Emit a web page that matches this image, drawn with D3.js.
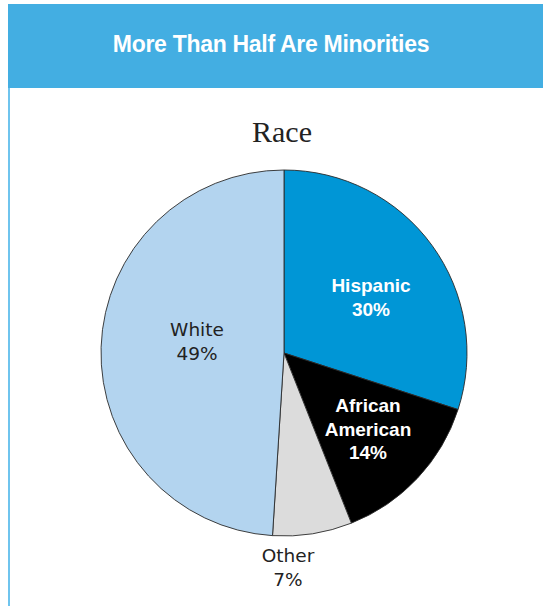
<!DOCTYPE html>
<html>
<head>
<meta charset="UTF-8">
<title>More Than Half Are Minorities</title>
<style>
  body { margin: 0; background: #fff; }
  text { font-family: "Liberation Sans", Arial, sans-serif; }
</style>
</head>
<body>
<svg id="chart"></svg>
<script src="https://cdnjs.cloudflare.com/ajax/libs/d3/7.8.5/d3.min.js"></script>
<script>
// data
var categories = ["Hispanic", "African American", "Other", "White"];
var values = [30, 14, 7, 49];
var colors = ["#0096d6", "#000000", "#dcdcdc", "#b3d4ef"];

var width = 543, height = 606;
var svg = d3.select("#chart").attr("width", width).attr("height", height);

// header band
svg.append("rect").attr("x", 8).attr("y", 4).attr("width", width - 8).attr("height", 84)
  .attr("fill", "#43aee2");
svg.append("line").attr("x1", 9).attr("x2", 9).attr("y1", 88).attr("y2", height)
  .attr("stroke", "#3fb0e8").attr("stroke-width", 1.5);
svg.append("text").attr("x", 271).attr("y", 52).attr("text-anchor", "middle")
  .attr("fill", "#fff").attr("font-weight", "bold").attr("font-size", 23)
  .attr("letter-spacing", -0.3)
  .text("More Than Half Are Minorities");

svg.append("text").attr("x", 282).attr("y", 142).attr("text-anchor", "middle")
  .style("font-family", "'Liberation Serif', 'DejaVu Serif', serif")
  .attr("font-size", 30).attr("fill", "#222").text("Race");

// pie
var cx = 284, cy = 353, r = 183;
var data = categories.map(function(c, i) { return {name: c, value: values[i], color: colors[i]}; });
var pie = d3.pie().sort(null).value(function(d) { return d.value; });
var arc = d3.arc().innerRadius(0).outerRadius(r);
var g = svg.append("g").attr("transform", "translate(" + cx + "," + cy + ")");
g.selectAll("path").data(pie(data)).enter().append("path")
  .attr("d", arc)
  .attr("fill", function(d) { return d.data.color; })
  .attr("stroke", "#2a2a2a").attr("stroke-width", 0.9);

// labels
var labels = [
  {lines: ["Hispanic", "30%"], x: 371, y: 292, fill: "#fff", bold: true},
  {lines: ["African", "American", "14%"], x: 368, y: 412, fill: "#fff", bold: true},
  {lines: ["White", "49%"], x: 197, y: 336, fill: "#222", bold: false},
  {lines: ["Other", "7%"], x: 288, y: 562, fill: "#222", bold: false}
];
labels.forEach(function(l) {
  var t = svg.append("text").attr("text-anchor", "middle").attr("fill", l.fill)
    .attr("font-size", l.bold ? 19 : 18.5).attr("font-weight", l.bold ? "bold" : "normal");
  if (!l.bold) t.style("font-family", "'DejaVu Sans', sans-serif");
  l.lines.forEach(function(s, i) {
    t.append("tspan").attr("x", l.x).attr("y", l.y + i * 23.5).text(s);
  });
});
</script>
</body>
</html>
